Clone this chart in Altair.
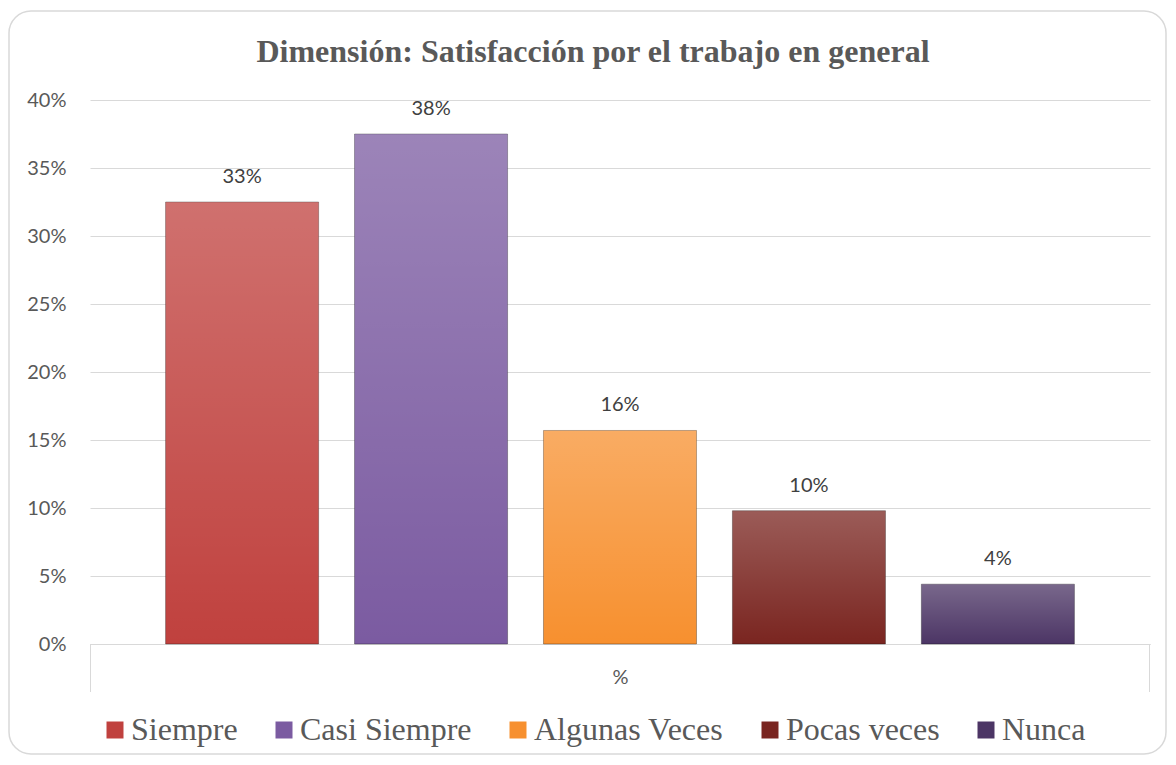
import altair as alt
import pandas as pd

categories = ["Siempre", "Casi Siempre", "Algunas Veces", "Pocas veces", "Nunca"]
values = [0.325, 0.375, 0.157, 0.098, 0.044]
labels = ["33%", "38%", "16%", "10%", "4%"]
colors = ["#c0413e", "#7b5ba1", "#f7902f", "#7a2520", "#4c3565"]
y_ticks = [0, 0.05, 0.10, 0.15, 0.20, 0.25, 0.30, 0.35, 0.40]
title_text = "Dimensión: Satisfacción por el trabajo en general"
x_title = "%"

df = pd.DataFrame({"cat": categories, "val": values, "lab": labels})
one = pd.DataFrame({"a": [0]})

W, H = 1060, 544

x_enc = alt.X(
    "cat:N",
    sort=categories,
    scale=alt.Scale(paddingInner=0.19, paddingOuter=0.4),
    axis=alt.Axis(
        labels=False, ticks=False, title=x_title, domain=True,
        domainColor="#d9d9d9", domainWidth=1, grid=False,
        titleFont="Lato", titleFontSize=20, titleFontWeight="normal",
        titleColor="#595959", titlePadding=23,
    ),
)
y_enc = alt.Y(
    "val:Q",
    scale=alt.Scale(domain=[0, 0.4]),
    axis=alt.Axis(
        format=".0%", values=y_ticks, grid=True, gridColor="#d9d9d9",
        domain=False, ticks=False, labelPadding=24, labelFont="Lato",
        labelFontSize=20, labelColor="#595959", title=None,
    ),
)

base = alt.Chart(df)

bars = base.mark_bar(stroke="rgba(0,0,0,0.3)", strokeWidth=1).encode(
    x=x_enc,
    y=y_enc,
    color=alt.Color(
        "cat:N",
        sort=categories,
        scale=alt.Scale(domain=categories, range=colors),
        legend=alt.Legend(
            title=None, orient="none", direction="horizontal",
            legendX=9, legendY=614, columns=5, columnPadding=30,
            symbolType="square", symbolSize=289, symbolStrokeWidth=0,
            labelFont="Liberation Serif", labelFontSize=32,
            labelColor="#595959", labelOffset=0, labelLimit=400, padding=0,
        ),
    ),
)

shine = base.mark_bar(
    fill=alt.Gradient(
        gradient="linear",
        stops=[
            alt.GradientStop(color="rgba(255,255,255,0.25)", offset=0),
            alt.GradientStop(color="rgba(255,255,255,0.0)", offset=1),
        ],
        x1=0, x2=0, y1=0, y2=1,
    )
).encode(x=alt.X("cat:N", sort=categories), y="val:Q")

text = base.mark_text(
    dy=-19, baseline="alphabetic", font="Lato", fontSize=20, color="#404040"
).encode(x=alt.X("cat:N", sort=categories), y="val:Q", text="lab:N")

tick_l = alt.Chart(one).mark_rect(color="#d9d9d9").encode(
    x=alt.value(0), x2=alt.value(1), y=alt.value(H), y2=alt.value(H + 48)
)
tick_r = alt.Chart(one).mark_rect(color="#d9d9d9").encode(
    x=alt.value(W - 1), x2=alt.value(W), y=alt.value(H), y2=alt.value(H + 48)
)
border = alt.Chart(one).mark_rect(
    fill="transparent", stroke="#d9d9d9", strokeWidth=1.5, cornerRadius=22
).encode(
    x=alt.value(-81), x2=alt.value(1076), y=alt.value(-89), y2=alt.value(654)
)

chart = (
    alt.layer(border, bars, shine, text, tick_l, tick_r)
    .properties(
        width=W,
        height=H,
        background="white",
        autosize=alt.AutoSizeParams(type="none"),
        padding={"left": 82, "top": 92, "right": 18, "bottom": 113},
        title=alt.TitleParams(
            text=title_text, font="Liberation Serif", fontSize=32,
            fontWeight="bold", color="#595959", anchor="middle",
            baseline="alphabetic", offset=-84, dx=-27,
        ),
    )
    .configure_view(stroke="transparent", strokeWidth=0)
)

chart.save("out.html", embed_options={"renderer": "svg", "actions": False})
